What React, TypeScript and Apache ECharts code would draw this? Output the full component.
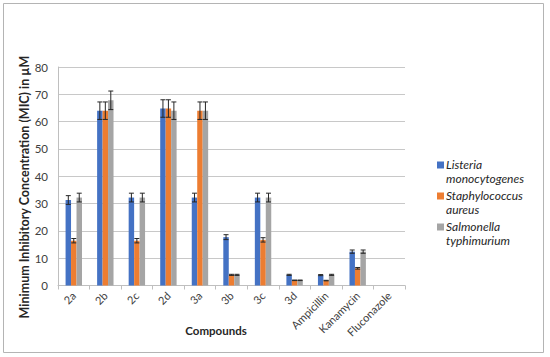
import React, { useEffect, useRef } from "react";
import * as echarts from "echarts";

const categories = ["2a", "2b", "2c", "2d", "3a", "3b", "3c", "3d", "Ampicillin", "Kanamycin", "Fluconazole"];
const seriesNames = ["Listeria monocytogenes", "Staphylococcus aureus", "Salmonella typhimurium"];
const listeria = [31.3, 64, 32.2, 64.8, 32.2, 17.7, 32.2, 3.9, 3.8, 12.4, 0];
const staph = [16.4, 64, 16.4, 64.8, 64, 3.9, 16.7, 1.9, 1.8, 6.3, 0];
const salmonella = [32.2, 67.8, 32.2, 64, 64, 3.9, 32.2, 1.9, 3.9, 12.4, 0];
const listeriaErr = [1.6, 3.2, 1.6, 3.2, 1.6, 0.9, 1.6, 0.2, 0.2, 0.6, 0];
const staphErr = [0.8, 3.2, 0.8, 3.2, 3.2, 0.2, 0.8, 0.1, 0.1, 0.3, 0];
const salmonellaErr = [1.6, 3.4, 1.6, 3.2, 3.2, 0.2, 1.6, 0.1, 0.2, 0.6, 0];
const yTicks = { min: 0, max: 80, interval: 10 };

const colors = ["#4472c4", "#ed7d31", "#a5a5a5"];
const legendLabels: Record<string, string> = {
  "Listeria monocytogenes": "Listeria\nmonocytogenes",
  "Staphylococcus aureus": "Staphylococcus\naureus",
  "Salmonella typhimurium": "Salmonella\ntyphimurium",
};
const FONT = "Lato, 'Open Sans', sans-serif";
const GAP = 0.48;

function errorSeries(values: number[], errs: number[], offset: number) {
  return {
    type: "custom",
    silent: true,
    z: 5,
    data: values.map((v, i) => [i, v, errs[i]]),
    encode: { x: 0, y: 1 },
    renderItem: (params: any, api: any) => {
      const idx = api.value(0);
      const val = api.value(1);
      const err = api.value(2);
      if (!err) return null;
      const band = api.size([1, 0])[0];
      const bw = (band * (1 - GAP)) / 3;
      const c = api.coord([idx, val]);
      const x = c[0] + offset * bw;
      const top = api.coord([idx, val + err])[1];
      const bot = api.coord([idx, val - err])[1];
      const cap = 2.5;
      const style = { stroke: "#262626", lineWidth: 1 };
      return {
        type: "group",
        children: [
          { type: "line", shape: { x1: x, y1: top, x2: x, y2: bot }, style },
          { type: "line", shape: { x1: x - cap, y1: top, x2: x + cap, y2: top }, style },
          { type: "line", shape: { x1: x - cap, y1: bot, x2: x + cap, y2: bot }, style },
        ],
      };
    },
  };
}

export default function App() {
  const ref = useRef<HTMLDivElement>(null);
  useEffect(() => {
    if (!ref.current) return;
    const chart = echarts.init(ref.current, undefined, { renderer: "svg" });
    const barSeries = [listeria, staph, salmonella].map((d, i) => ({
      name: seriesNames[i],
      type: "bar",
      data: d,
      barGap: "0%",
      barCategoryGap: GAP * 100 + "%",
      itemStyle: { color: colors[i] },
    }));
    chart.setOption({
      animation: false,
      backgroundColor: "#ffffff",
      grid: { left: 58, right: 145, top: 67, bottom: 71.5 },
      xAxis: {
        type: "category",
        data: categories,
        axisLine: { lineStyle: { color: "#bfbfbf" } },
        axisTick: { show: true, length: 4, lineStyle: { color: "#bfbfbf" } },
        axisLabel: { rotate: 45, color: "#404040", fontFamily: FONT, fontSize: 11, margin: 8, interval: 0 },
      },
      yAxis: {
        type: "value",
        min: yTicks.min,
        max: yTicks.max,
        interval: yTicks.interval,
        axisLine: { show: true, lineStyle: { color: "#bfbfbf" } },
        axisTick: { show: false },
        splitLine: { lineStyle: { color: "#c8c8c8" } },
        axisLabel: { color: "#404040", fontFamily: FONT, fontSize: 11.5, margin: 10 },
      },
      legend: {
        orient: "vertical",
        left: 432,
        top: 153,
        itemWidth: 7,
        itemHeight: 26,
        itemGap: 4,
        icon: "path://M0,3H7V10H0Z M0,0H0.01V0.01H0Z M0,25.99H0.01V26H0Z",
        data: seriesNames,
        formatter: (n: string) => legendLabels[n] || n,
        textStyle: {
          fontFamily: FONT,
          fontStyle: "italic",
          fontSize: 12,
          color: "#262626",
          lineHeight: 13.5,
          padding: [0, 0, 0, -3],
        },
        selectedMode: false,
      },
      graphic: [
        {
          type: "rect",
          shape: { x: 3.5, y: 3.5, width: 540, height: 349 },
          style: { fill: "none", stroke: "#b4b4b4", lineWidth: 1 },
          silent: true,
        },
        {
          type: "text",
          x: 216,
          y: 330,
          style: {
            text: "Compounds",
            font: "bold 11.5px " + FONT,
            fill: "#262626",
            align: "center",
            verticalAlign: "middle",
          },
        },
        {
          type: "text",
          x: 24,
          y: 187,
          rotation: Math.PI / 2,
          style: {
            text: "Minimum Inhibitory Concentration (MIC) in µM",
            font: "bold 12.5px " + FONT,
            fill: "#262626",
            align: "center",
            verticalAlign: "middle",
          },
        },
      ],
      series: [
        ...barSeries,
        errorSeries(listeria, listeriaErr, -1),
        errorSeries(staph, staphErr, 0),
        errorSeries(salmonella, salmonellaErr, 1),
      ],
    });
    return () => chart.dispose();
  }, []);
  return <div ref={ref} style={{ position: "absolute", left: 0, top: 0, width: 550, height: 357 }} />;
}
